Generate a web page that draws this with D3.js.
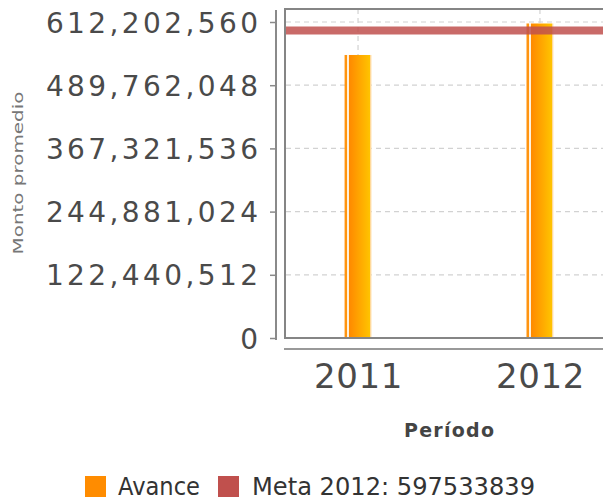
<!DOCTYPE html>
<html><head><meta charset="utf-8">
<script src="https://cdn.jsdelivr.net/npm/d3@7"></script>
<style>html,body{margin:0;padding:0;background:#fff;}svg{display:block;}</style>
</head><body>
<svg id="chart" width="603" height="501"></svg>
<script>
const categories = ["2011", "2012"];
const avance = [548300000, 609300000];
const metaValue = 597533839;
const seriesNames = ["Avance", "Meta 2012: 597533839"];
const seriesColors = ["#ff8c00", "#c0504d"];
const yTicks = [0, 122440512, 244881024, 367321536, 489762048, 612202560];
const yTitle = "Monto promedio";
const xTitle = "Período";

const svg = d3.select("#chart");
const plot = {left: 286, right: 612, top: 9, bottom: 338};

const y = d3.scaleLinear().domain([0, d3.max(yTicks)]).range([338, 22]);
const x = d3.scalePoint().domain(categories).range([plot.left, plot.right]).padding(0.396);
const barW = x.step() * 0.148;

const defs = svg.append("defs");
const g1 = defs.append("linearGradient").attr("id", "barGrad").attr("x1", "0").attr("x2", "1").attr("y1", "0").attr("y2", "0");
[[0, "#ff9410"], [0.08, "#ff9410"], [0.09, "#fff1dc"], [0.17, "#fff1dc"], [0.18, "#ff8a00"], [0.95, "#ffc400"], [0.96, "#ffd99a"], [1, "#ffe2b0"]]
  .forEach(([o, c]) => g1.append("stop").attr("offset", o).attr("stop-color", c));
defs.append("clipPath").attr("id", "plotClip").append("rect")
  .attr("x", plot.left).attr("y", plot.top).attr("width", plot.right - plot.left).attr("height", plot.bottom - plot.top);

const inner = svg.append("g").attr("clip-path", "url(#plotClip)");

// horizontal gridlines
inner.selectAll(".hg").data(yTicks.filter(d => d > 0)).enter().append("line")
  .attr("x1", plot.left).attr("x2", plot.right)
  .attr("y1", d => y(d)).attr("y2", d => y(d))
  .attr("stroke", "#d2d2d2").attr("stroke-width", 1.2).attr("stroke-dasharray", "5,4");
// vertical gridlines
inner.selectAll(".vg").data(categories).enter().append("line")
  .attr("x1", d => x(d)).attr("x2", d => x(d))
  .attr("y1", plot.top).attr("y2", plot.bottom)
  .attr("stroke", "#d2d2d2").attr("stroke-width", 1.2).attr("stroke-dasharray", "5,4");

// bars
inner.selectAll(".bar").data(avance).enter().append("rect")
  .attr("x", (d, i) => x(categories[i]) - barW / 2)
  .attr("width", barW)
  .attr("y", d => y(d))
  .attr("height", d => y(0) - y(d))
  .attr("fill", "url(#barGrad)");

// meta line
inner.append("line")
  .attr("x1", plot.left).attr("x2", plot.right)
  .attr("y1", y(metaValue) + 1).attr("y2", y(metaValue) + 1)
  .attr("stroke", seriesColors[1]).attr("stroke-opacity", 0.85).attr("stroke-width", 8);

// plot frame
svg.append("rect").attr("x", plot.left - 1).attr("y", plot.top)
  .attr("width", plot.right - plot.left + 1).attr("height", plot.bottom - plot.top)
  .attr("fill", "none").attr("stroke", "#858585").attr("stroke-width", 2);

// y axis
const yAxis = svg.append("g").attr("transform", "translate(276,0)")
  .call(d3.axisLeft(y).tickValues(yTicks).tickFormat(d3.format(",")).tickSize(6).tickSizeOuter(0).tickPadding(13));
yAxis.select(".domain").remove();
yAxis.selectAll(".tick line").attr("stroke", "#8a8a8a").attr("stroke-width", 1.5);
yAxis.selectAll(".tick text")
  .attr("font-family", "DejaVu Sans").attr("font-size", 28).attr("fill", "#4a4a4a")
  .attr("letter-spacing", 3.4).attr("dy", "0.36em").attr("dx", 4.4);
yAxis.append("line").attr("x1", 0).attr("x2", 0).attr("y1", 10).attr("y2", 340)
  .attr("stroke", "#8a8a8a").attr("stroke-width", 2);

// x axis
const xAxis = svg.append("g").attr("transform", "translate(0,349)")
  .call(d3.axisBottom(x).tickSize(0).tickSizeOuter(0).tickPadding(0));
xAxis.select(".domain").remove();
xAxis.append("line").attr("x1", plot.left - 2).attr("x2", 603).attr("y1", 0).attr("y2", 0)
  .attr("stroke", "#999").attr("stroke-width", 2);
xAxis.selectAll(".tick text")
  .attr("font-family", "DejaVu Sans").attr("font-size", 34).attr("fill", "#4a4a4a")
  .attr("letter-spacing", 0.6).attr("y", 39).attr("dy", 0);

// titles
svg.append("text").attr("transform", "translate(23,173) rotate(-90)")
  .attr("text-anchor", "middle").attr("font-family", "DejaVu Sans").attr("font-size", 14)
  .attr("fill", "#777").attr("textLength", 163).attr("lengthAdjust", "spacingAndGlyphs")
  .text(yTitle);
svg.append("text").attr("x", (plot.left + plot.right) / 2).attr("y", 437)
  .attr("text-anchor", "middle").attr("font-family", "DejaVu Sans").attr("font-size", 19)
  .attr("font-weight", "bold").attr("fill", "#444").attr("textLength", 90).attr("lengthAdjust", "spacing")
  .text(xTitle);

// legend
const legendItems = [
  {name: seriesNames[0], color: seriesColors[0], sx: 85, tx: 118, tl: 82},
  {name: seriesNames[1], color: seriesColors[1], sx: 218, tx: 252, tl: 283}
];
const lg = svg.append("g");
lg.selectAll("rect").data(legendItems).enter().append("rect")
  .attr("x", d => d.sx).attr("y", 476).attr("width", 21).attr("height", 21).attr("fill", d => d.color);
lg.selectAll("text").data(legendItems).enter().append("text")
  .attr("x", d => d.tx).attr("y", 495)
  .attr("font-family", "DejaVu Sans").attr("font-size", 24).attr("fill", "#333")
  .attr("textLength", d => d.tl).attr("lengthAdjust", "spacingAndGlyphs")
  .text(d => d.name);
</script>
</body></html>
